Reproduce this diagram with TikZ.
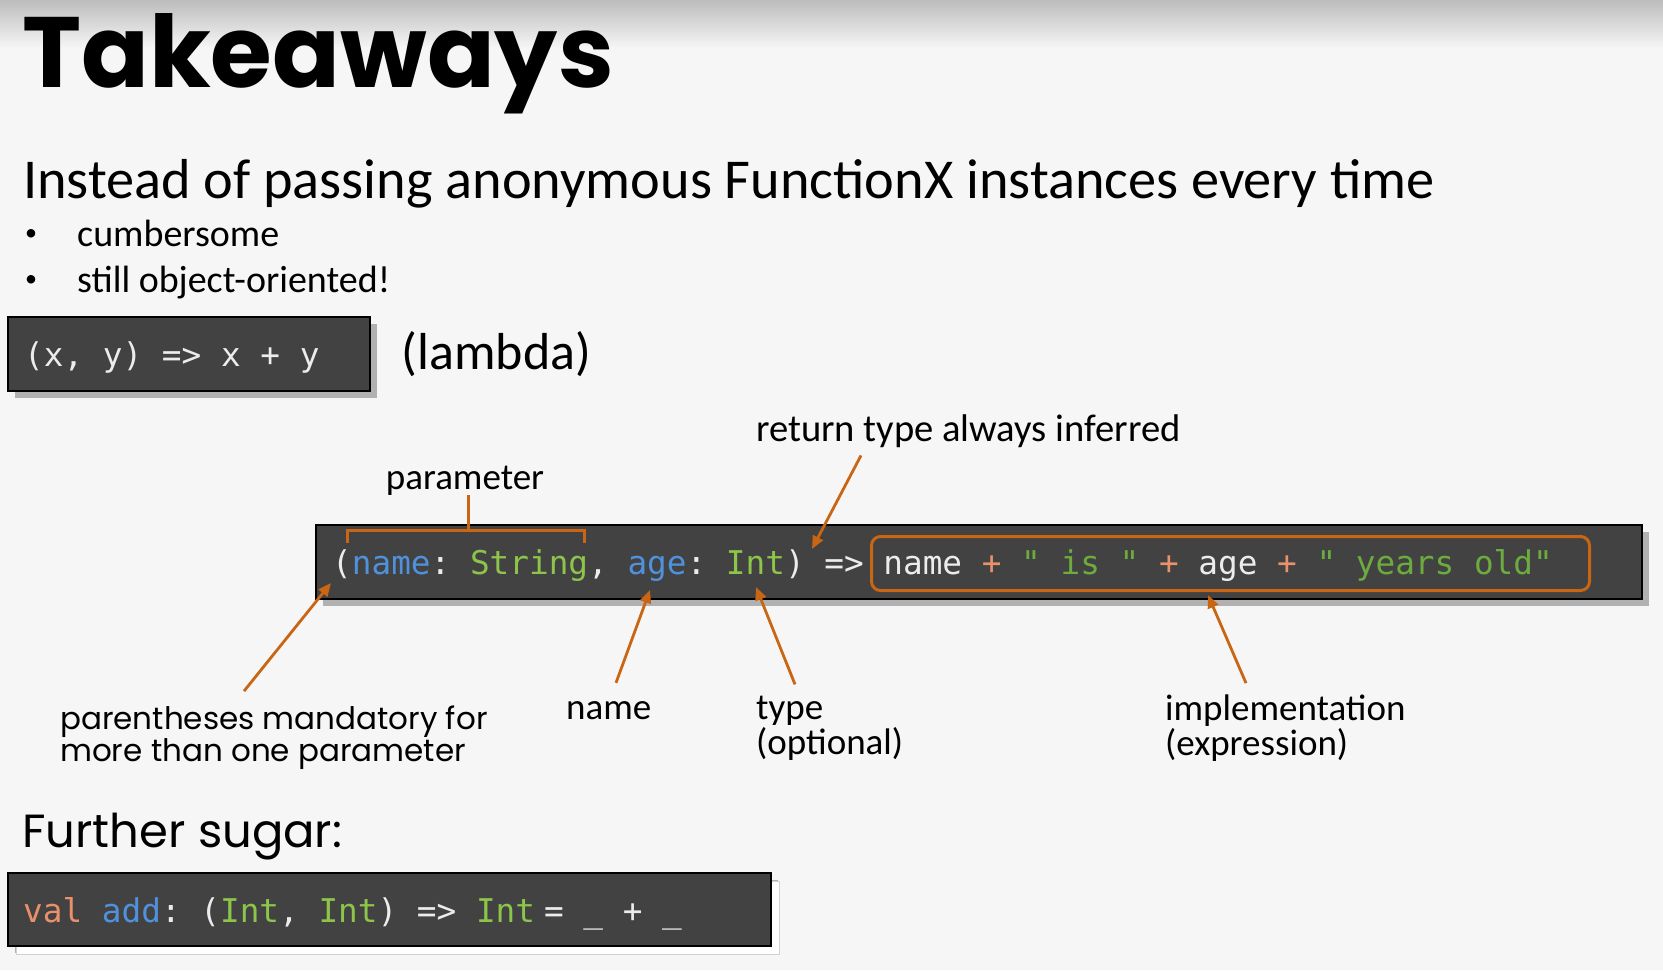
\documentclass[tikz,border=0pt]{standalone}
\usepackage{fontspec}
\setmainfont{Carlito}
\setmonofont{DejaVu Sans Mono}
\newfontfamily\headfont{Poppins}
\usepackage{tikz}
\usetikzlibrary{positioning, arrows.meta, shadows}
\usepackage{xcolor}
\definecolor{slidebg}{RGB}{246,246,246}
\definecolor{slidetop}{RGB}{188,188,188}
\definecolor{codebg}{RGB}{66,66,66}
\definecolor{codefg}{RGB}{236,236,236}
\definecolor{codeparam}{RGB}{80,145,220}
\definecolor{codetype}{RGB}{141,196,74}
\definecolor{codestr}{RGB}{108,172,62}
\definecolor{codeop}{RGB}{232,145,106}
\definecolor{markorange}{RGB}{200,102,20}
\newcommand{\cpar}[1]{\textcolor{codeparam}{#1}}
\newcommand{\ctyp}[1]{\textcolor{codetype}{#1}}
\newcommand{\cstr}[1]{\textcolor{codestr}{#1}}
\newcommand{\cop}[1]{\textcolor{codeop}{#1}}
\tikzset{
  tkcodebox/.style = {draw=black, line width=1.6pt, fill=codebg,
                      inner sep=0pt, anchor=north west,
                      drop shadow={shadow xshift=7pt, shadow yshift=-7pt,
                                   fill=black, opacity=0.28}},
  tkcode/.style    = {font=\fontsize{32.7}{36}\selectfont\ttfamily,
                      text=codefg, inner sep=0pt, anchor=west},
  tklbl/.style     = {font=\fontsize{37}{33}\selectfont, inner sep=0pt,
                      align=left},
  tkarrow/.style   = {draw=markorange, line width=2.8pt,
                      -{Triangle[length=13pt,width=11pt]}},
  tkmark/.style    = {draw=markorange, line width=3pt}
}
\begin{document}
\begin{tikzpicture}[x=1pt, y=-1pt]
  \useasboundingbox (0,0) rectangle (1663,970);
  \fill[slidebg] (0,0) rectangle (1663,970);
  \shade[top color=slidetop, bottom color=slidebg] (0,0) rectangle (1663,48);

  % heading and intro
  \node[anchor=base west, inner sep=0pt, font=\headfont\bfseries\fontsize{100}{104}\selectfont]
        (title) at (22,87) {Takeaways};
  \node[anchor=base west, inner sep=0pt, font=\fontsize{56.3}{60}\selectfont]
        (intro) at (23,198) {Instead of passing anonymous FunctionX instances every time};
  \node[anchor=base west, inner sep=0pt, font=\fontsize{24}{26}\selectfont] (b1) at (25,240) {•};
  \node[anchor=base west, inner sep=0pt, font=\fontsize{38}{40}\selectfont] (t1) at (77,246) {cumbersome};
  \node[anchor=base west, inner sep=0pt, font=\fontsize{24}{26}\selectfont] (b2) at (25,286) {•};
  \node[anchor=base west, inner sep=0pt, font=\fontsize{38}{40}\selectfont] (t2) at (77,292) {still object-oriented!};

  % short lambda
  \node[tkcodebox, minimum width=362pt, minimum height=74pt] (lambdabox) at (7,316) {};
  \node[tkcode] (lambdacode) at (24,357) {(x, y) => x + y};
  \node[inner sep=0pt, font=\fontsize{52}{56}\selectfont, right=31pt of lambdabox] (lambdalbl) {(lambda)};

  % full lambda
  \node[tkcodebox, minimum width=1326pt, minimum height=74pt] (fullbox) at (315,524) {};
  \node[tkcode] (fullcode) at (332,565)
        {(\cpar{name}: \ctyp{String}, \cpar{age}: \ctyp{Int}) => name \cop{+} \cstr{" is "} \cop{+} age \cop{+} \cstr{" years old"}};
  \node[tkmark, rounded corners=9pt, minimum width=718pt, minimum height=54pt,
        inner sep=0pt, anchor=north west] (implbox) at (870,535) {};

  % parameter bracket
  \node[tklbl, anchor=base] (paramlbl) at (465,489) {parameter};
  \coordinate (stem) at (468,530);
  \draw[tkmark] (347,543) |- (584,530) -- (584,543);
  \draw[tkmark] (stem) -- (stem |- paramlbl.south);

  % labels below and above
  \node[tklbl, anchor=base west, font=\fontsize{38.6}{33}\selectfont]
        (retlbl) at (756,441) {return type always inferred};
  \node[tklbl, anchor=base west, font=\headfont\fontsize{31}{32}\selectfont]
        (parenlbl) at (60,761) {parentheses mandatory for\\more than one parameter};
  \node[tklbl, anchor=base west] (namelbl) at (566,719) {name};
  \node[tklbl, anchor=base west] (typelbl) at (756,754) {type\\(optional)};
  \node[tklbl, anchor=base west] (impllbl) at (1165,755) {implementation\\(expression)};

  \coordinate (parenhead) at (331,583);
  \coordinate (namehead)  at (650,590);
  \coordinate (typehead)  at (756,587);
  \coordinate (implhead)  at (1208,595);
  \coordinate (rethead)   at (812,549);

  \draw[tkarrow] ([xshift=184pt, yshift=14pt]parenlbl.north west) -- (parenhead);
  \draw[tkarrow] ([xshift=50pt, yshift=18pt]namelbl.north west) -- (namehead);
  \draw[tkarrow] ([xshift=39pt, yshift=12pt]typelbl.north west) -- (typehead);
  \draw[tkarrow] ([xshift=81pt, yshift=12pt]impllbl.north west) -- (implhead);
  \draw[tkarrow] ([xshift=105pt, yshift=-8pt]retlbl.south west) -- (rethead);

  % further sugar
  \node[anchor=base west, inner sep=0pt, font=\headfont\fontsize{46.5}{50}\selectfont]
        (sugarlbl) at (22,847) {Further sugar:};
  \node[tkcodebox, minimum width=763pt, minimum height=73pt,
        drop shadow={shadow xshift=9pt, shadow yshift=-9pt, fill=white,
                     draw=black!18, line width=1pt, rounded corners=4pt, opacity=1}]
        (sugarbox) at (7,872) {};
  \node[tkcode] (sugarcode) at (23,914)
        {\cop{val} \cpar{add}: (\ctyp{Int}, \ctyp{Int}) => \ctyp{Int}\kern9pt= \_ + \_};
\end{tikzpicture}
\end{document}
